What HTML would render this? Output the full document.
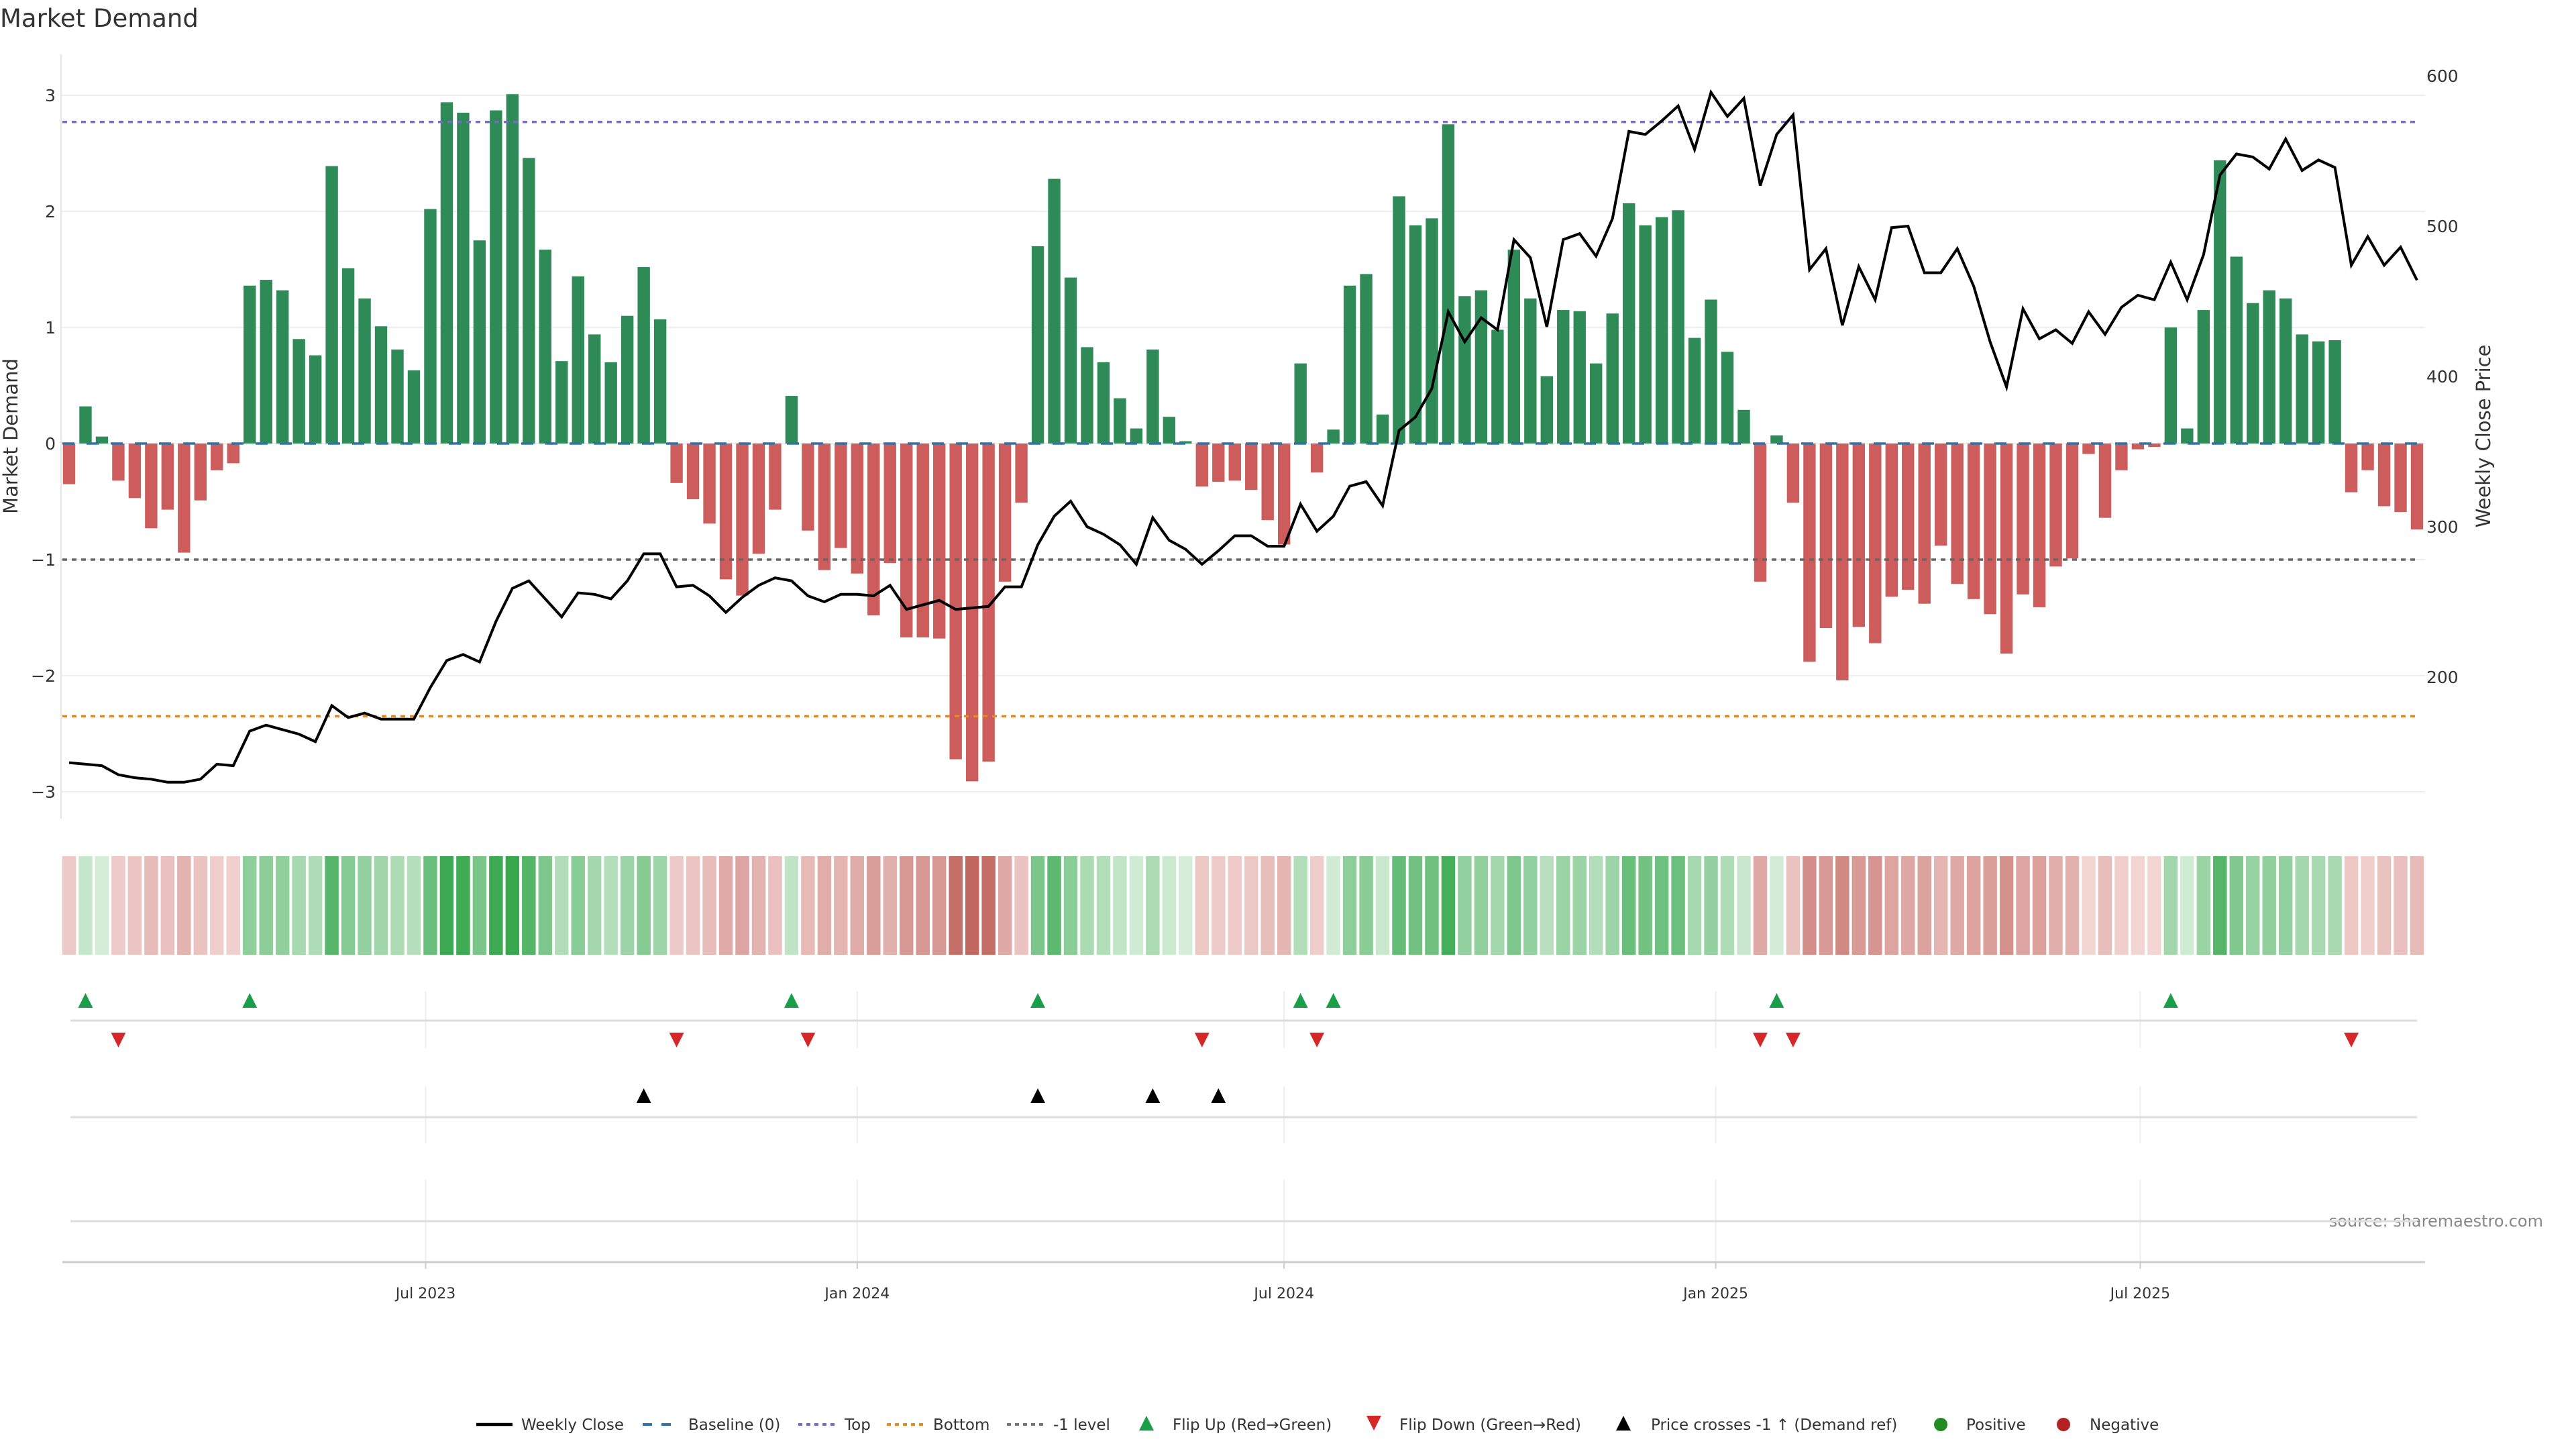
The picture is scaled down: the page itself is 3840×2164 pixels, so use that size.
<!DOCTYPE html>
<html><head><meta charset="utf-8">
<style>
html,body{margin:0;padding:0;background:#fff;}
body{width:3840px;height:2160px;overflow:hidden;font-family:"DejaVu Sans","Liberation Sans",sans-serif;}
svg text{font-family:"DejaVu Sans","Liberation Sans",sans-serif;}
</style></head>
<body>
<svg id="chart" width="3840" height="2160" viewBox="0 0 3840 2160" xmlns="http://www.w3.org/2000/svg">
<text x="0" y="40" font-size="37" fill="#333">Market Demand</text>
<text transform="translate(26,650) rotate(-90)" text-anchor="middle" font-size="29" fill="#333">Market Demand</text>
<text transform="translate(3712,650) rotate(-90)" text-anchor="middle" font-size="29" fill="#333">Weekly Close Price</text>
<text x="3791" y="1828" text-anchor="end" font-size="24" fill="#888">source: sharemaestro.com</text>
<g id="g"></g>
</svg>
<script>
const demand=[-0.35,0.32,0.06,-0.32,-0.47,-0.73,-0.57,-0.94,-0.49,-0.23,-0.17,1.36,1.41,1.32,0.90,0.76,2.39,1.51,1.25,1.01,0.81,0.63,2.02,2.94,2.85,1.75,2.87,3.01,2.46,1.67,0.71,1.44,0.94,0.70,1.10,1.52,1.07,-0.34,-0.48,-0.69,-1.17,-1.31,-0.95,-0.57,0.41,-0.75,-1.09,-0.90,-1.12,-1.48,-1.03,-1.67,-1.67,-1.68,-2.72,-2.91,-2.74,-1.19,-0.51,1.70,2.28,1.43,0.83,0.70,0.39,0.13,0.81,0.23,0.02,-0.37,-0.33,-0.32,-0.40,-0.66,-0.87,0.69,-0.25,0.12,1.36,1.46,0.25,2.13,1.88,1.94,2.75,1.27,1.32,0.98,1.67,1.25,0.58,1.15,1.14,0.69,1.12,2.07,1.88,1.95,2.01,0.91,1.24,0.79,0.29,-1.19,0.07,-0.51,-1.88,-1.59,-2.04,-1.58,-1.72,-1.32,-1.26,-1.38,-0.88,-1.21,-1.34,-1.47,-1.81,-1.30,-1.41,-1.06,-0.99,-0.09,-0.64,-0.23,-0.05,-0.03,1.00,0.13,1.15,2.44,1.61,1.21,1.32,1.25,0.94,0.88,0.89,-0.42,-0.23,-0.54,-0.59,-0.74];
const price=[143,142,141,135,133,132,130,130,132,142,141,164,168,165,162,157,181,173,176,172,172,172,193,211,215,210,237,259,264,252,240,256,255,252,264,282,282,260,261,254,243,253,261,266,264,254,250,255,255,254,261,245,248,251,245,246,247,260,260,288,307,317,300,295,288,275,306,291,285,275,284,294,294,287,287,315,297,307,327,330,314,364,373,392,443,423,439,431,491,479,433,491,495,480,505,563,561,570,580,551,589,573,585,527,561,574,471,485,434,473,451,499,500,469,469,485,460,423,393,445,425,431,422,443,428,446,454,451,476,451,481,534,548,546,538,558,537,544,539,474,493,474,486,464];
const leftTicks=[3,2,1,0,-1,-2,-3];
const rightTicks=[600,500,400,300,200];
const xTickLabels=["Jul 2023","Jan 2024","Jul 2024","Jan 2025","Jul 2025"];
const xTickDates=["2023-07-01","2024-01-01","2024-07-01","2025-01-01","2025-07-01"];
const topLevel=2.77, bottomLevel=-2.35, minusLevel=-1;
const startDate="2023-01-30";

const NS="http://www.w3.org/2000/svg";
const g=document.getElementById('g');
function el(t,a,p){const e=document.createElementNS(NS,t);for(const k in a)e.setAttribute(k,a[k]);(p||g).appendChild(e);return e;}
const X0=103, PITCH=3500/(demand.length-1);
const xi=i=>X0+i*PITCH;
const yL=v=>661-v*173;
const yR=p=>113+(600-p)*2.24;
const vToPrice=v=>600-(yL(v)-113)/2.24;
const xDate=d=>xi((new Date(d)-new Date(startDate))/(7*864e5));
const PL=91, PR=3615;

// gridlines
leftTicks.forEach(t=>{
  const l=el('line',{x1:PL,x2:PR,y1:yL(t),y2:yL(t),stroke:'#eeeeee','stroke-width':2});
  
  
  const tx=el('text',{x:83,y:yL(t)+9,'text-anchor':'end','font-size':25,fill:'#333'});
  tx.textContent=(t<0?'\u2212'+(-t):t);
  
  
});
rightTicks.forEach(t=>{
  const tx=el('text',{x:3617,y:yR(t)+9,'font-size':25,fill:'#333'});
  tx.textContent=t;
  
  
});
const ax=el('line',{x1:PL,x2:PL,y1:81,y2:1220,stroke:'#e6e6e6','stroke-width':2});



// bars
const BW=18.4;
demand.forEach((v,i)=>{
  const y0=yL(0), y1=yL(v);
  const r=el('rect',{x:xi(i)-BW/2,y:Math.min(y0,y1),width:BW,height:Math.max(Math.abs(y1-y0),1),fill:v>=0?'#2e8b57':'#cd5c5c'});
  
  
});
// reference lines
function hline(v,color,dash,name){const l=el('line',{x1:xi(0)-10,x2:xi(demand.length-1)+1,y1:yL(v),y2:yL(v),stroke:color,'stroke-width':3.5,'stroke-dasharray':dash});
  
  }
hline(0,'#2f73a8','18 18','baseline-line');
hline(topLevel,'#7b68c8','7 7','top-line');
hline(bottomLevel,'#e8891f','7 7','bottom-line');
hline(minusLevel,'#666','7 7','minus-one-line');
// price line
const pl=el('polyline',{points:price.map((p,i)=>xi(i)+','+yR(p)).join(' '),fill:'none',stroke:'#000','stroke-width':4,'stroke-linejoin':'miter'});



// heatmap
const HW=PITCH-4;
demand.forEach((v,i)=>{
  const a=Math.min(Math.abs(v)/3,1);
  let c;
  if(v>=0){c=`rgb(${Math.round(215-a*160)},${Math.round(238-a*70)},${Math.round(218-a*140)})`;}
  else{c=`rgb(${Math.round(243-a*50)},${Math.round(215-a*115)},${Math.round(213-a*120)})`;}
  const r=el('rect',{x:xi(i)-HW/2,y:1276,width:HW,height:147,fill:c});
  
  
});

// vertical grid segments + x ticks
xTickDates.forEach((d,k)=>{
  const x=xDate(d);
  [[1477,1562],[1619,1704],[1758,1881]].forEach(s=>{
    const l=el('line',{x1:x,x2:x,y1:s[0],y2:s[1],stroke:'#eeeeee','stroke-width':2});
    
    
  });
  const tk=el('line',{x1:x,x2:x,y1:1881,y2:1891,stroke:'#ccc','stroke-width':2});
  
  
  const tx=el('text',{x:x,y:1935,'text-anchor':'middle','font-size':22,fill:'#333'});
  tx.textContent=xTickLabels[k];
  
  
});
[[1521,3603],[1665,3603],[1820,3603]].forEach(s=>{
  const l=el('line',{x1:105,x2:s[1],y1:s[0],y2:s[0],stroke:'#dddddd','stroke-width':3});
  
  
});
const xa=el('line',{x1:93,x2:3615,y1:1881,y2:1881,stroke:'#cccccc','stroke-width':3});



// markers
function tri(x,y,up,color,name){
  const s=11;
  const pts=up?`${x},${y-s} ${x-s},${y+s} ${x+s},${y+s}`:`${x},${y+s} ${x-s},${y-s} ${x+s},${y-s}`;
  const t=el('polygon',{points:pts,fill:color});
  
  
}
const thr=vToPrice(minusLevel);
for(let i=1;i<demand.length;i++){
  if(demand[i-1]<0&&demand[i]>=0)tri(xi(i),1491,true,'#1a9e4a','flip-up-marker');
  if(demand[i-1]>=0&&demand[i]<0)tri(xi(i),1550,false,'#d62728','flip-down-marker');
  if(price[i-1]<thr&&price[i]>=thr)tri(xi(i),1633,true,'#000','price-cross-marker');
}

// legend
const LY=2123;
const leg=el('g',{});


function ltext(x,s){const t=el('text',{x:x,y:LY+8,'font-size':23,fill:'#333'},leg);t.textContent=s;
  
  }
function lline(x,color,dash,w){const l=el('line',{x1:x,x2:x+54,y1:LY,y2:LY,stroke:color,'stroke-width':w,'stroke-dasharray':dash},leg);
  
  }
lline(710,'#000','',4.5);ltext(777,'Weekly Close');
lline(958,'#2f73a8','14 14',4);ltext(1026,'Baseline (0)');
lline(1190,'#7b68c8','6 6',4);ltext(1259,'Top');
lline(1322,'#e8891f','6 6',4);ltext(1391,'Bottom');
lline(1501,'#777','6 6',4);ltext(1570,'-1 level');
tri(1709,LY-2,true,'#1a9e4a','legend-flip-up');ltext(1748,'Flip Up (Red\u2192Green)');
tri(2048,LY-2,false,'#d62728','legend-flip-down');ltext(2086,'Flip Down (Green\u2192Red)');
tri(2420,LY-2,true,'#000','legend-price-cross');ltext(2461,'Price crosses -1 \u2191 (Demand ref)');
const d1=el('circle',{cx:2893,cy:LY,r:10,fill:'#228b22'},leg);


ltext(2931,'Positive');
const d2=el('circle',{cx:3076,cy:LY,r:10,fill:'#b22222'},leg);


ltext(3115,'Negative');
</script>
</body></html>
